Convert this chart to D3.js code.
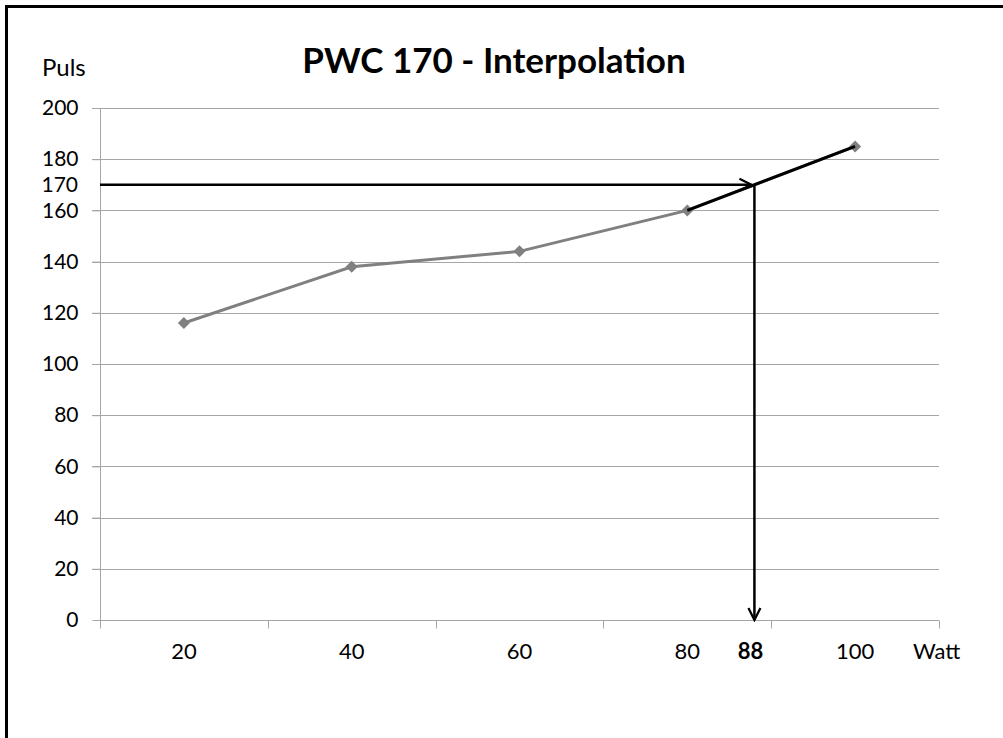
<!DOCTYPE html>
<html>
<head>
<meta charset="utf-8">
<script src="https://cdn.jsdelivr.net/npm/d3@7"></script>
<style>
  body { margin: 0; background: #fff; }
  text { font-family: Lato, "Open Sans", sans-serif; fill: #000; }
  .grid line { stroke: #a6a6a6; stroke-width: 1; }
  .axis path, .axis line { stroke: #a6a6a6; }
</style>
</head>
<body>
<svg class="chart"></svg>
<script>
// data
var watts = ["20", "40", "60", "80", "100"];
var puls = [116, 138, 144, 160, 185];
var yTicks = [0, 20, 40, 60, 80, 100, 120, 140, 160, 180, 200];
var pwcPuls = 170;   // target pulse
var pwcWatt = 88;    // interpolated load

var W = 1003, H = 738;
var margin = {top: 108, right: 64, bottom: 118, left: 100},
    width = W - margin.left - margin.right,
    height = H - margin.top - margin.bottom;

var svg = d3.select(".chart")
    .attr("width", W)
    .attr("height", H);

// frame round the whole chart, right and bottom edge run off the picture
svg.append("rect")
    .attr("x", 6.5).attr("y", 6.5)
    .attr("width", W + 20).attr("height", H + 20)
    .attr("fill", "none")
    .attr("stroke", "#000")
    .attr("stroke-width", 3);

svg.append("defs").append("marker")
    .attr("id", "arrow")
    .attr("viewBox", "0 0 10 10")
    .attr("refX", 9).attr("refY", 5)
    .attr("markerWidth", 6).attr("markerHeight", 6)
    .attr("orient", "auto")
  .append("path")
    .attr("d", "M1,1 L9,5 L1,9")
    .attr("fill", "none")
    .attr("stroke", "#000")
    .attr("stroke-width", 1.5);

var chart = svg.append("g")
    .attr("transform", "translate(" + margin.left + "," + margin.top + ")");

var x = d3.scaleBand()
    .domain(watts)
    .range([0, width])
    .padding(0);

var y = d3.scaleLinear()
    .domain([0, 200])
    .range([height, 0]);

// linear watt scale through the category centres, for the 88 W mark
var xw = d3.scaleLinear()
    .domain([+watts[0], +watts[watts.length - 1]])
    .range([x(watts[0]) + x.bandwidth() / 2, x(watts[watts.length - 1]) + x.bandwidth() / 2]);

// horizontal grid plus outward tick on the left
chart.append("g")
    .attr("class", "grid")
  .selectAll("line")
    .data(yTicks.slice(1))
  .enter().append("line")
    .attr("x1", -8).attr("x2", width)
    .attr("y1", function(d){ return Math.round(y(d)) + 0.5; })
    .attr("y2", function(d){ return Math.round(y(d)) + 0.5; });

// y axis
var yAxis = d3.axisLeft(y)
    .tickValues(yTicks)
    .tickSize(8)
    .tickPadding(14);
var gy = chart.append("g")
    .attr("class", "axis")
    .attr("transform", "translate(0.5,0)")
    .call(yAxis);
gy.select(".domain").attr("d", "M0," + height + "V0");
gy.selectAll("text").style("font-size", "21px");

chart.append("text")
    .attr("x", -22)
    .attr("y", y(pwcPuls))
    .attr("dy", "0.32em")
    .attr("text-anchor", "end")
    .style("font-size", "21px")
    .text(pwcPuls);

// x axis: labels in the band centres, ticks on the band edges
var xAxis = d3.axisBottom(x)
    .tickSize(0)
    .tickPadding(23);
var gx = chart.append("g")
    .attr("class", "axis")
    .attr("transform", "translate(0," + (height + 0.5) + ")")
    .call(xAxis);
gx.select(".domain").attr("d", "M0,0H" + width);
gx.selectAll("text").style("font-size", "22px");

gx.selectAll(".edge")
    .data(watts.map(function(d){ return x(d); }).concat([width]))
  .enter().append("line")
    .attr("class", "edge")
    .attr("x1", function(d){ return Math.round(d) + 0.5; })
    .attr("x2", function(d){ return Math.round(d) + 0.5; })
    .attr("y1", 0).attr("y2", 8);

chart.append("text")
    .attr("x", xw(pwcWatt) - 4)
    .attr("y", height + 23)
    .attr("dy", "0.71em")
    .attr("text-anchor", "middle")
    .style("font-size", "22px")
    .style("font-weight", "bold")
    .text(pwcWatt);

chart.append("text")
    .attr("x", width - 26)
    .attr("y", height + 23)
    .attr("dy", "0.71em")
    .style("font-size", "22px")
    .text("Watt");

// data line
var pts = watts.map(function(d, i){ return {w: d, p: puls[i]}; });
var line = d3.line()
    .x(function(d){ return x(d.w) + x.bandwidth() / 2; })
    .y(function(d){ return y(d.p); });

chart.append("path")
    .datum(pts)
    .attr("fill", "none")
    .attr("stroke", "#808080")
    .attr("stroke-width", 3)
    .attr("d", line);

chart.selectAll(".pt")
    .data(pts)
  .enter().append("path")
    .attr("class", "pt")
    .attr("d", "M0,-6L6,0L0,6L-6,0Z")
    .attr("fill", "#808080")
    .attr("transform", function(d){ return "translate(" + (x(d.w) + x.bandwidth() / 2) + "," + y(d.p) + ")"; });

// interpolation: black segment between the two last points
chart.append("path")
    .datum(pts.slice(3))
    .attr("fill", "none")
    .attr("stroke", "#000")
    .attr("stroke-width", 3)
    .attr("d", line);

// arrow from the pulse axis to the line, then down to the watt axis
chart.append("line")
    .attr("x1", 0).attr("x2", xw(pwcWatt) - 3)
    .attr("y1", y(pwcPuls)).attr("y2", y(pwcPuls))
    .attr("stroke", "#000").attr("stroke-width", 2.5)
    .attr("marker-end", "url(#arrow)");

chart.append("line")
    .attr("x1", xw(pwcWatt)).attr("x2", xw(pwcWatt))
    .attr("y1", y(pwcPuls)).attr("y2", height)
    .attr("stroke", "#000").attr("stroke-width", 2.5)
    .attr("marker-end", "url(#arrow)");

// titles
svg.append("text")
    .attr("x", 494)
    .attr("y", 73)
    .attr("text-anchor", "middle")
    .style("font-size", "35px")
    .style("font-weight", "bold")
    .text("PWC 170 - Interpolation");

svg.append("text")
    .attr("x", 42)
    .attr("y", 76)
    .style("font-size", "24px")
    .text("Puls");
</script>
</body>
</html>
